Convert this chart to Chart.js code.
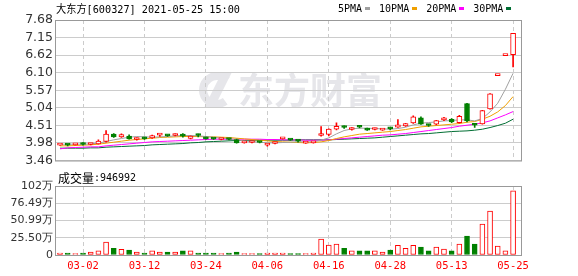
<!DOCTYPE html>
<html>
<head>
<meta charset="utf-8">
<script src="https://cdn.jsdelivr.net/npm/chart.js@4.4.1/dist/chart.umd.min.js"></script>
<style>
  html, body { margin: 0; padding: 0; background: #fff; }
  #wrap { position: relative; width: 578px; height: 276px; overflow: hidden; }
  #kline { position: absolute; left: 0; top: 0; }
  #vol { position: absolute; left: 0; top: 170px; }
</style>
</head>
<body>
<div id="wrap">
  <canvas id="kline" width="578" height="170"></canvas>
  <canvas id="vol" width="578" height="106"></canvas>
</div>
<script>
// 大东方 600327 日K 数据
const dates = ['02-25','02-26','03-01','03-02','03-03','03-04','03-05','03-08','03-09','03-10',
  '03-11','03-12','03-15','03-16','03-17','03-18','03-19','03-22','03-23','03-24',
  '03-25','03-26','03-29','03-30','03-31','04-01','04-02','04-06','04-07','04-08',
  '04-09','04-12','04-13','04-14','04-15','04-16','04-19','04-20','04-21','04-22',
  '04-23','04-26','04-27','04-28','04-29','04-30','05-06','05-07','05-10','05-11',
  '05-12','05-13','05-14','05-17','05-18','05-19','05-20','05-21','05-24','05-25'];

const openP = [3.92,3.94,3.93,3.98,3.94,3.96,4.03,4.25,4.17,4.19,
  4.09,4.13,4.14,4.22,4.22,4.21,4.20,4.12,4.23,4.14,
  4.12,4.09,4.11,4.09,3.99,4.00,4.02,3.92,3.97,4.11,
  4.09,4.05,3.98,3.99,4.21,4.24,4.40,4.48,4.39,4.48,
  4.41,4.39,4.37,4.42,4.46,4.50,4.59,4.74,4.52,4.55,
  4.68,4.70,4.60,5.17,4.53,4.56,5.01,6.01,6.61,6.64];
const highP = [3.94,3.95,3.96,4.00,3.97,4.08,4.36,4.27,4.26,4.23,
  4.14,4.16,4.22,4.25,4.23,4.26,4.27,4.20,4.25,4.16,
  4.13,4.12,4.12,4.10,4.03,4.03,4.03,3.97,4.00,4.14,
  4.10,4.07,4.02,4.02,4.48,4.41,4.59,4.50,4.45,4.51,
  4.43,4.43,4.41,4.45,4.69,4.58,4.80,4.77,4.55,4.67,
  4.76,4.72,4.82,5.18,4.58,4.97,5.47,6.01,6.61,7.28];
const lowP = [3.91,3.90,3.92,3.92,3.93,3.95,4.01,4.15,4.15,4.10,
  4.07,4.09,4.12,4.18,4.18,4.20,4.16,4.11,4.17,4.10,
  4.09,4.08,4.08,3.98,3.98,3.99,3.99,3.89,3.96,4.10,
  4.06,4.01,3.97,3.98,4.19,4.20,4.38,4.42,4.37,4.44,
  4.36,4.38,4.36,4.38,4.45,4.48,4.57,4.54,4.48,4.53,
  4.66,4.60,4.58,4.62,4.45,4.55,5.00,6.01,6.61,6.27];
const closeP = [3.93,3.92,3.95,3.94,3.96,4.04,4.25,4.17,4.24,4.11,
  4.13,4.11,4.21,4.23,4.20,4.25,4.19,4.19,4.21,4.11,
  4.10,4.11,4.09,3.99,4.02,4.01,4.00,3.97,3.99,4.13,
  4.07,4.04,4.01,4.01,4.27,4.40,4.49,4.45,4.43,4.46,
  4.37,4.42,4.40,4.41,4.53,4.57,4.77,4.55,4.51,4.66,
  4.74,4.62,4.79,4.65,4.52,4.96,5.46,6.01,6.61,7.28];

const volumes = [30000,30000,20000,30000,45000,60000,190000,100000,84000,74000,
  44000,30000,60000,45000,45000,45000,60000,60000,30000,30000,
  30000,20000,30000,45000,20000,20000,20000,30000,30000,30000,
  20000,20000,20000,30000,237000,148000,160000,100000,60000,60000,
  60000,60000,45000,74000,143000,100000,143000,118000,60000,118000,
  89000,60000,160000,280000,160000,458000,650000,133000,60000,946992];

const ma5 = [3.95,3.95,3.95,3.95,3.96,3.98,4.03,4.08,4.12,4.16,
  4.18,4.17,4.16,4.17,4.18,4.20,4.21,4.21,4.20,4.18,
  4.16,4.13,4.11,4.08,4.05,4.03,4.01,3.99,3.99,4.00,
  4.01,4.02,4.02,4.02,4.07,4.14,4.26,4.36,4.41,4.43,
  4.43,4.42,4.41,4.40,4.42,4.46,4.53,4.58,4.60,4.62,
  4.65,4.66,4.68,4.68,4.65,4.72,4.92,5.18,5.60,6.08];
const ma10 = [3.90,3.90,3.91,3.92,3.93,3.95,3.98,4.01,4.04,4.07,
  4.09,4.11,4.13,4.15,4.16,4.17,4.18,4.18,4.18,4.17,
  4.17,4.16,4.15,4.13,4.11,4.09,4.07,4.05,4.03,4.02,
  4.01,4.00,3.99,4.00,4.02,4.06,4.12,4.17,4.21,4.25,
  4.27,4.29,4.31,4.33,4.36,4.39,4.43,4.47,4.49,4.51,
  4.53,4.55,4.57,4.61,4.63,4.70,4.79,4.92,5.11,5.38];
const ma20 = [3.81,3.84,3.85,3.86,3.87,3.87,3.90,3.92,3.94,3.96,
  3.98,4.00,4.02,4.03,4.04,4.05,4.06,4.07,4.08,4.09,
  4.10,4.10,4.10,4.10,4.10,4.10,4.10,4.09,4.09,4.08,
  4.08,4.08,4.07,4.07,4.07,4.08,4.10,4.12,4.14,4.16,
  4.18,4.20,4.22,4.23,4.25,4.27,4.30,4.33,4.36,4.39,
  4.42,4.45,4.49,4.52,4.55,4.59,4.65,4.74,4.83,4.93];
const ma30 = [3.83,3.83,3.83,3.83,3.84,3.84,3.86,3.87,3.88,3.89,
  3.90,3.91,3.93,3.94,3.95,3.96,3.97,3.99,4.00,4.02,
  4.03,4.04,4.05,4.06,4.06,4.07,4.07,4.07,4.07,4.07,
  4.07,4.08,4.08,4.08,4.08,4.08,4.09,4.10,4.11,4.12,
  4.13,4.14,4.16,4.18,4.20,4.22,4.24,4.26,4.27,4.29,
  4.31,4.33,4.34,4.35,4.37,4.40,4.45,4.51,4.58,4.70];

const priceTickLabels = ['3.46','3.98','4.51','5.04','5.57','6.10','6.62','7.15','7.68'];
const volTickLabels = ['0','25.50万','50.99万','76.49万','102万'];
const xTickLabels = ['03-02','03-12','03-24','04-06','04-16','04-28','05-13','05-25'];

const maNames = ['5PMA', '10PMA', '20PMA', '30PMA'];
const maColors = ['#a0a0a0', '#f0a000', '#ff00ff', '#006e33'];

const titleText = '大东方[600327] 2021-05-25 15:00';

// ----- 样式 -----
const UP = '#ff0000';
const DOWN = '#008000';
const GRID = '#cccccc';
const priceMin = 3.46, priceMax = 7.68;
const volMax = 1019800;
const xMin = -0.65, xMax = 60.16;

const idx = dates.map((d, i) => i);
const isUp = idx.map(i => closeP[i] >= openP[i]);

function xAxis(showLabels) {
    return {
        type: 'linear', min: xMin, max: xMax, offset: false,
        afterBuildTicks: s => { s.ticks = xTickLabels.map(l => ({ value: dates.indexOf(l) })); },
        afterFit: s => { s.height = showLabels ? 21 : 0; },
        grid: { color: GRID, lineWidth: 1, drawTicks: false, offset: false },
        border: { display: false, dash: [4, 3] },
        ticks: {
            display: showLabels, autoSkip: false, maxRotation: 0, padding: 5,
            color: UP, font: { family: 'DejaVu Sans Mono', size: 10.5 },
            callback: v => dates[v]
        }
    };
}

function yAxis(min, max, labels, fontSize) {
    return {
        min: min, max: max,
        afterBuildTicks: s => {
            s.ticks = labels.map((l, k) => ({ value: min + k * (max - min) / (labels.length - 1) }));
        },
        afterFit: s => { s.width = 55; },
        grid: { color: GRID, lineWidth: 1, drawTicks: false },
        border: { display: false },
        ticks: {
            autoSkip: false, padding: 2, color: '#333',
            font: { family: 'DejaVu Sans', size: fontSize },
            callback: (v, k) => labels[k]
        }
    };
}

// 框线 + 标题 + 图例 + 水印
const priceDeco = {
    id: 'priceDeco',
    beforeDraw(chart) {
        const ctx = chart.ctx;
        ctx.save();
        ctx.fillStyle = '#e6e6ea';
        ctx.strokeStyle = '#e6e6ea';
        ctx.lineWidth = 8;
        ctx.beginPath();
        ctx.arc(217, 90, 14, Math.PI * 0.3, Math.PI * 1.75);
        ctx.stroke();
        ctx.beginPath();
        ctx.moveTo(222, 72); ctx.lineTo(232, 72); ctx.lineTo(214, 108); ctx.lineTo(204, 108);
        ctx.closePath(); ctx.fill();
        ctx.font = "bold 36px 'Noto Sans CJK SC'";
        ctx.textBaseline = 'middle';
        ctx.fillText('东方财富', 238, 90);
        ctx.restore();
    },
    afterDraw(chart) {
        const { ctx, chartArea: a } = chart;
        ctx.save();
        ctx.strokeStyle = '#999999';
        ctx.lineWidth = 1;
        ctx.strokeRect(a.left + 0.5, a.top + 0.5, a.right - a.left - 1, a.bottom - a.top);

        ctx.fillStyle = '#000';
        ctx.textBaseline = 'middle';
        ctx.font = "11px 'DejaVu Sans Mono', 'Noto Sans CJK SC'";
        ctx.fillText(titleText, 56, 10, 184);

        ctx.font = "10px 'DejaVu Sans Mono'";
        let x = 338;
        maNames.forEach((name, k) => {
            ctx.fillStyle = '#000';
            ctx.fillText(name, x, 9);
            const w = ctx.measureText(name).width;
            ctx.fillStyle = maColors[k];
            ctx.fillRect(Math.round(x + w + 3), 7, 5, 3);
            x = x + w + 3 + 5 + 9;
        });
        ctx.restore();
    }
};

const volDeco = {
    id: 'volDeco',
    afterDraw(chart) {
        const { ctx, chartArea: a } = chart;
        ctx.save();
        ctx.strokeStyle = '#999999';
        ctx.lineWidth = 1;
        ctx.strokeRect(a.left + 0.5, a.top + 0.5, a.right - a.left - 1, a.bottom - a.top);
        ctx.fillStyle = '#000';
        ctx.textBaseline = 'middle';
        ctx.font = "12px 'Noto Sans CJK SC'";
        ctx.fillText('成交量', 58, 8);
        const w = ctx.measureText('成交量').width;
        ctx.font = "10px 'DejaVu Sans Mono'";
        ctx.fillText(':' + volumes[volumes.length - 1], 58 + w, 8);
        ctx.restore();
    }
};

const common = {
    responsive: false,
    devicePixelRatio: 1,
    animation: false,
    events: [],
    plugins: { legend: { display: false }, tooltip: { enabled: false } }
};

const maSets = [ma5, ma10, ma20, ma30].map((arr, k) => ({
    type: 'line',
    data: idx.map(i => ({ x: i, y: arr[i] })),
    borderColor: maColors[k],
    borderWidth: 1,
    pointRadius: 0,
    tension: 0,
    order: 3
}));

new Chart(document.getElementById('kline'), {
    type: 'bar',
    data: {
        datasets: [
            {
                // 影线
                data: idx.map(i => ({ x: i, y: [lowP[i], highP[i]] })),
                barThickness: 1, grouped: false, borderWidth: 0,
                backgroundColor: c => isUp[c.dataIndex] ? UP : DOWN,
                order: 2
            },
            {
                // 实体
                data: idx.map(i => ({ x: i, y: [openP[i], closeP[i]] })),
                barThickness: 5, grouped: false, minBarLength: 2,
                backgroundColor: c => isUp[c.dataIndex] ? '#ffffff' : DOWN,
                borderColor: c => isUp[c.dataIndex] ? UP : DOWN,
                borderWidth: 1, borderSkipped: false,
                order: 1
            },
            ...maSets
        ]
    },
    options: {
        ...common,
        layout: { padding: { left: 0, top: 20, right: 56, bottom: 5 } },
        scales: {
            x: xAxis(false),
            y: yAxis(priceMin, priceMax, priceTickLabels, 12.5)
        }
    },
    plugins: [priceDeco]
});

new Chart(document.getElementById('vol'), {
    type: 'bar',
    data: {
        datasets: [{
            data: idx.map(i => ({ x: i, y: volumes[i] })),
            barThickness: 5, grouped: false,
            backgroundColor: c => isUp[c.dataIndex] ? '#ffffff' : DOWN,
            borderColor: c => isUp[c.dataIndex] ? UP : DOWN,
            borderWidth: 1, borderSkipped: false
        }]
    },
    options: {
        ...common,
        layout: { padding: { left: 0, top: 16, right: 56, bottom: 0 } },
        scales: {
            x: xAxis(true),
            y: yAxis(0, volMax, volTickLabels, 11)
        }
    },
    plugins: [volDeco]
});
</script>
</body>
</html>
